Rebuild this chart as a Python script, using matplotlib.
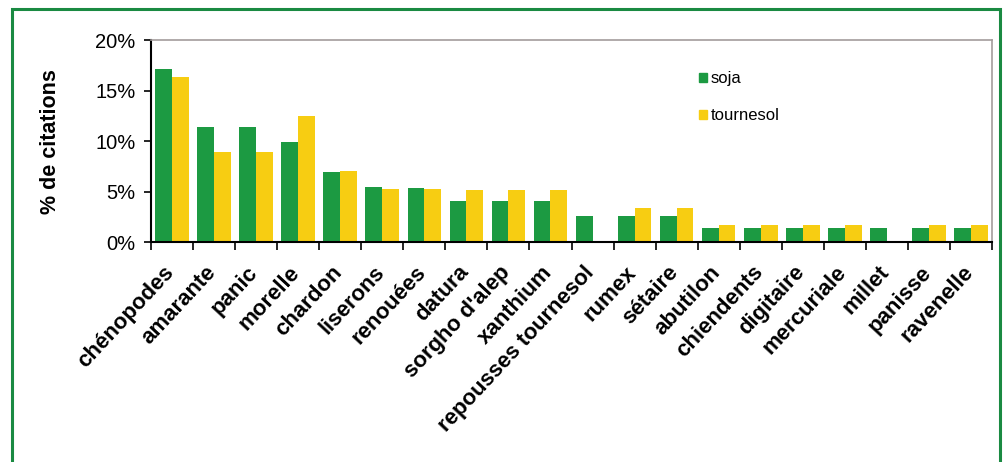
import matplotlib
matplotlib.use("Agg")
import matplotlib.pyplot as plt
import numpy as np
from matplotlib.patches import Rectangle, Patch
from matplotlib.ticker import FixedLocator, PercentFormatter
from matplotlib.transforms import ScaledTranslation

plt.rcParams['font.family'] = ['Liberation Sans', 'DejaVu Sans']

categories = ["chénopodes", "amarante", "panic", "morelle", "chardon", "liserons",
              "renouées", "datura", "sorgho d'alep", "xanthium", "repousses tournesol",
              "rumex", "sétaire", "abutilon", "chiendents", "digitaire", "mercuriale",
              "millet", "panisse", "ravenelle"]
soja = [17.1, 11.4, 11.4, 9.9, 7.0, 5.45, 5.4, 4.1, 4.1, 4.1, 2.6,
        2.6, 2.6, 1.4, 1.4, 1.4, 1.4, 1.4, 1.4, 1.4]
tournesol = [16.3, 8.9, 8.9, 12.5, 7.1, 5.25, 5.25, 5.2, 5.2, 5.2, 0,
             3.45, 3.45, 1.75, 1.75, 1.75, 1.75, 0, 1.75, 1.75]
series_names = ["soja", "tournesol"]
yticks = [0, 5, 10, 15, 20]

GREEN = "#1c9a42"
YELLOW = "#f7cd12"

fig = plt.figure(figsize=(10.06, 4.62), dpi=100)
ax = fig.add_axes([151/1006, 1-242.5/462, (992-151)/1006, (242.5-40)/462])

x = np.arange(len(categories))
w = 0.4
ax.bar(x - w/2, soja, width=w, color=GREEN, label=series_names[0])
ax.bar(x + w/2, tournesol, width=w, color=YELLOW, label=series_names[1])

ax.set_xlim(-0.5, len(categories) - 0.5)
ax.set_ylim(0, 20)
ax.yaxis.set_major_locator(FixedLocator(yticks))
ax.yaxis.set_major_formatter(PercentFormatter(decimals=0))
ax.tick_params(axis='y', labelsize=14.5, length=5, width=1.2, pad=6, direction='out')

ax.set_xticks(x)
ax.set_xticklabels(categories, rotation=47, ha='right', va='top',
                   rotation_mode='anchor', fontsize=16, fontweight='bold')
ax.tick_params(axis='x', which='major', length=0, pad=14)
ax.set_xticks(np.arange(-0.5, len(categories)), minor=True)
ax.tick_params(axis='x', which='minor', length=6, width=1.2, direction='out')
offset = ScaledTranslation(-9/100, 0, fig.dpi_scale_trans)
for lab in ax.get_xticklabels():
    lab.set_transform(lab.get_transform() + offset)

ax.set_ylabel("% de citations", fontsize=15.5, fontweight='bold', labelpad=25)

for s in ['left', 'bottom']:
    ax.spines[s].set_color('black')
    ax.spines[s].set_linewidth(1.5)
for s in ['top', 'right']:
    ax.spines[s].set_color('#a39c9c')
    ax.spines[s].set_linewidth(1.2)

handles = [Patch(color=GREEN), Patch(color=YELLOW)]
ax.legend(handles, series_names, loc='upper left', bbox_to_anchor=(684/1006, 1-56/462),
          bbox_transform=fig.transFigure, frameon=False, fontsize=12,
          handlelength=0.45, handleheight=0.45, handletextpad=0.25, labelspacing=1.35)

fig.patches.append(Rectangle((12/1006, -0.05), (1000-12)/1006, 1.05 - 9/462,
                             transform=fig.transFigure, fill=False,
                             edgecolor='#1a8a42', linewidth=2.2))

fig.savefig("out.png", dpi=100)
